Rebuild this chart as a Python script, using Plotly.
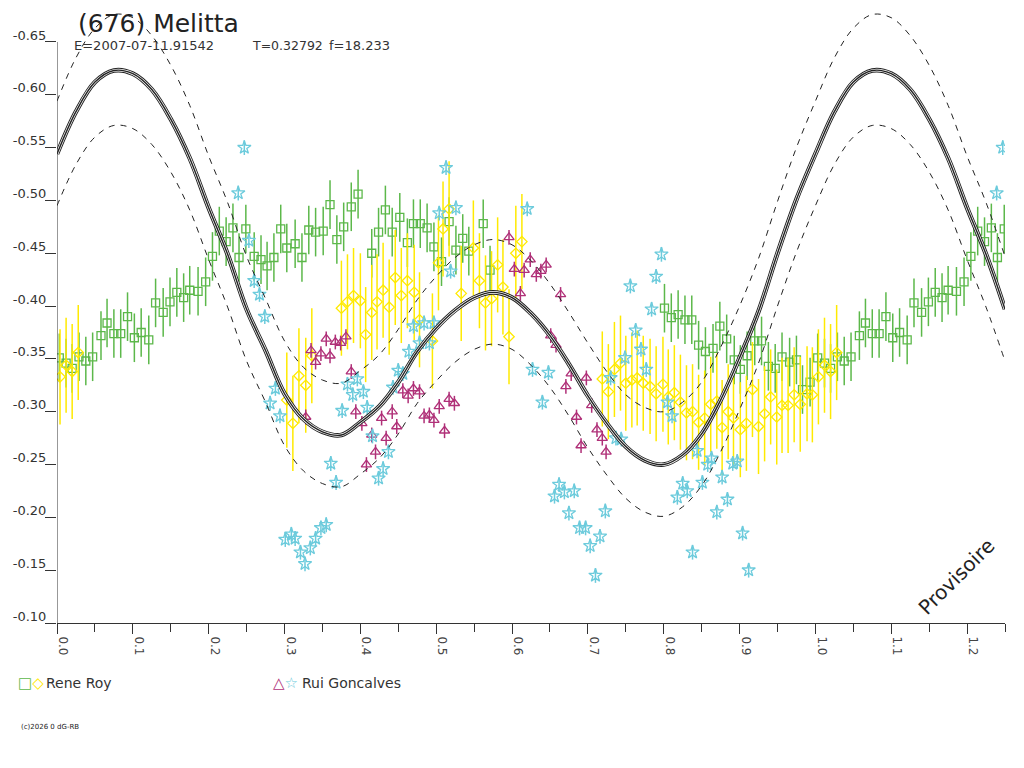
import plotly.graph_objects as go

# ---- fitted curve (every 0.025 in phase)
fit_phase = [round(i * 0.025, 3) for i in range(41)]
fit_mag = [-0.544, -0.584, -0.612, -0.623, -0.620, -0.605, -0.577, -0.540, -0.493, -0.449,
           -0.397, -0.358, -0.317, -0.293, -0.281, -0.278, -0.290, -0.305, -0.328, -0.357,
           -0.379, -0.396, -0.408, -0.413, -0.408, -0.393, -0.372, -0.345, -0.315, -0.289,
           -0.267, -0.254, -0.250, -0.259, -0.279, -0.311, -0.351, -0.395, -0.450, -0.501,
           -0.544]
fit_upper = [-0.594, -0.635, -0.663, -0.676, -0.673, -0.656, -0.628, -0.590, -0.542, -0.498,
             -0.447, -0.407, -0.367, -0.342, -0.330, -0.327, -0.339, -0.354, -0.378, -0.406,
             -0.428, -0.446, -0.458, -0.463, -0.458, -0.443, -0.421, -0.394, -0.365, -0.338,
             -0.316, -0.304, -0.300, -0.309, -0.328, -0.361, -0.400, -0.445, -0.499, -0.550,
             -0.594]
fit_lower = [-0.495, -0.534, -0.560, -0.571, -0.568, -0.553, -0.527, -0.491, -0.444, -0.399,
             -0.348, -0.309, -0.268, -0.244, -0.232, -0.229, -0.241, -0.256, -0.279, -0.308,
             -0.329, -0.347, -0.359, -0.364, -0.359, -0.344, -0.323, -0.296, -0.266, -0.240,
             -0.218, -0.205, -0.201, -0.210, -0.230, -0.262, -0.302, -0.346, -0.400, -0.451,
             -0.495]

# ---- Rene Roy, session 1 (green squares)
roy1_phase = [0.003, 0.012, 0.020, 0.029, 0.038, 0.047, 0.058, 0.066, 0.075, 0.084,
              0.093, 0.102, 0.111, 0.121, 0.130, 0.140, 0.149, 0.158, 0.167, 0.175,
              0.186, 0.196, 0.205, 0.214, 0.223, 0.232, 0.240, 0.249, 0.260, 0.269,
              0.277, 0.286, 0.295, 0.303, 0.314, 0.323, 0.332, 0.341, 0.351, 0.360,
              0.369, 0.378, 0.388, 0.397, 0.415, 0.424, 0.433, 0.442, 0.452, 0.462,
              0.470, 0.479, 0.488, 0.497, 0.507, 0.517, 0.526, 0.535, 0.543, 0.562,
              0.571, 0.801, 0.810, 0.819, 0.828, 0.837, 0.846, 0.855, 0.865, 0.874,
              0.883, 0.893, 0.901, 0.910, 0.920, 0.929, 0.938, 0.947, 0.956, 0.966,
              0.975, 0.983, 0.993]
roy1_mag = [-0.351, -0.346, -0.341, -0.352, -0.348, -0.352, -0.372, -0.384, -0.374, -0.374,
            -0.390, -0.370, -0.375, -0.368, -0.403, -0.394, -0.404, -0.413, -0.408, -0.415,
            -0.414, -0.423, -0.447, -0.471, -0.461, -0.474, -0.446, -0.473, -0.447, -0.444,
            -0.438, -0.446, -0.473, -0.455, -0.459, -0.446, -0.472, -0.470, -0.471, -0.496,
            -0.463, -0.475, -0.494, -0.506, -0.450, -0.470, -0.491, -0.470, -0.484, -0.460,
            -0.478, -0.478, -0.474, -0.456, -0.442, -0.480, -0.453, -0.464, -0.452, -0.478,
            -0.434, -0.398, -0.389, -0.392, -0.387, -0.387, -0.363, -0.357, -0.360, -0.381,
            -0.369, -0.349, -0.340, -0.353, -0.367, -0.367, -0.343, -0.341, -0.352, -0.347,
            -0.349, -0.321, -0.328]

# ---- Rene Roy, session 2 (yellow diamonds)
roy2_phase = [0.004, 0.012, 0.020, 0.028, 0.303, 0.311, 0.319, 0.328, 0.336, 0.375,
              0.383, 0.391, 0.400, 0.407, 0.415, 0.422, 0.430, 0.438, 0.446, 0.454,
              0.462, 0.471, 0.478, 0.495, 0.503, 0.509, 0.517, 0.533, 0.549, 0.557,
              0.565, 0.573, 0.581, 0.588, 0.596, 0.605, 0.613, 0.719, 0.727, 0.735,
              0.743, 0.750, 0.758, 0.765, 0.773, 0.782, 0.790, 0.799, 0.806, 0.814,
              0.822, 0.830, 0.838, 0.846, 0.854, 0.862, 0.870, 0.877, 0.885, 0.892,
              0.901, 0.909, 0.917, 0.925, 0.933, 0.941, 0.949, 0.956, 0.964, 0.972,
              0.980, 0.989, 0.996]
roy2_mag = [-0.333, -0.344, -0.338, -0.356, -0.311, -0.289, -0.334, -0.325, -0.353, -0.398,
            -0.404, -0.410, -0.405, -0.373, -0.394, -0.404, -0.415, -0.399, -0.427, -0.410,
            -0.424, -0.413, -0.387, -0.367, -0.441, -0.473, -0.492, -0.412, -0.455, -0.424,
            -0.403, -0.407, -0.439, -0.418, -0.371, -0.450, -0.461, -0.331, -0.319, -0.340,
            -0.346, -0.327, -0.330, -0.332, -0.327, -0.324, -0.317, -0.326, -0.314, -0.318,
            -0.309, -0.299, -0.300, -0.290, -0.294, -0.307, -0.310, -0.285, -0.300, -0.294,
            -0.283, -0.289, -0.321, -0.286, -0.298, -0.314, -0.295, -0.306, -0.306, -0.316,
            -0.307, -0.317, -0.316]

# ---- Rui Goncalves, session 1 (purple triangles)
rui1_phase = [0.328, 0.335, 0.341, 0.348, 0.355, 0.360, 0.367, 0.374, 0.381, 0.388,
              0.394, 0.402, 0.408, 0.415, 0.420, 0.428, 0.434, 0.442, 0.448, 0.456,
              0.463, 0.470, 0.478, 0.484, 0.491, 0.497, 0.504, 0.511, 0.517, 0.524,
              0.596, 0.603, 0.611, 0.616, 0.624, 0.632, 0.638, 0.645, 0.651, 0.658,
              0.664, 0.671, 0.678, 0.685, 0.691, 0.698, 0.705, 0.712, 0.719, 0.724]
rui1_mag = [-0.295, -0.358, -0.347, -0.355, -0.369, -0.353, -0.366, -0.365, -0.371, -0.338,
            -0.300, -0.289, -0.250, -0.278, -0.262, -0.294, -0.275, -0.300, -0.286, -0.320,
            -0.315, -0.322, -0.319, -0.296, -0.297, -0.292, -0.305, -0.282, -0.312, -0.308,
            -0.465, -0.435, -0.412, -0.434, -0.444, -0.430, -0.433, -0.439, -0.372, -0.363,
            -0.411, -0.324, -0.336, -0.295, -0.268, -0.332, -0.306, -0.283, -0.275, -0.262]

# ---- Rui Goncalves, session 2 (cyan stars)
rui2_phase = [0.239, 0.247, 0.253, 0.260, 0.267, 0.274, 0.281, 0.288, 0.294, 0.301,
              0.309, 0.314, 0.321, 0.327, 0.334, 0.341, 0.348, 0.355, 0.361, 0.368,
              0.376, 0.383, 0.390, 0.396, 0.404, 0.409, 0.416, 0.424, 0.430, 0.437,
              0.443, 0.450, 0.456, 0.464, 0.470, 0.478, 0.484, 0.491, 0.497, 0.504,
              0.513, 0.519, 0.526, 0.620, 0.627, 0.640, 0.648, 0.656, 0.662, 0.669,
              0.675, 0.682, 0.689, 0.697, 0.703, 0.710, 0.716, 0.723, 0.730, 0.737,
              0.744, 0.749, 0.756, 0.763, 0.770, 0.777, 0.784, 0.790, 0.797, 0.805,
              0.811, 0.818, 0.825, 0.831, 0.838, 0.844, 0.851, 0.858, 0.863, 0.870,
              0.877, 0.884, 0.891, 0.897, 0.904, 0.912]
rui2_mag = [-0.507, -0.550, -0.462, -0.424, -0.411, -0.390, -0.308, -0.322, -0.296, -0.179,
            -0.184, -0.180, -0.167, -0.156, -0.171, -0.180, -0.190, -0.193, -0.251, -0.233,
            -0.301, -0.326, -0.316, -0.331, -0.319, -0.304, -0.277, -0.237, -0.246, -0.262,
            -0.323, -0.339, -0.336, -0.357, -0.381, -0.365, -0.384, -0.365, -0.384, -0.488,
            -0.531, -0.433, -0.493, -0.492, -0.340, -0.309, -0.337, -0.220, -0.231, -0.224,
            -0.204, -0.225, -0.190, -0.190, -0.173, -0.145, -0.182, -0.206, -0.332, -0.275,
            -0.274, -0.351, -0.419, -0.377, -0.359, -0.340, -0.397, -0.428, -0.449, -0.309,
            -0.296, -0.219, -0.232, -0.225, -0.167, -0.263, -0.233, -0.250, -0.256, -0.205,
            -0.238, -0.217, -0.251, -0.253, -0.185, -0.150]

x_ticks = [0.0, 0.1, 0.2, 0.3, 0.4, 0.5, 0.6, 0.7, 0.8, 0.9, 1.0, 1.1, 1.2]
y_ticks = [-0.65, -0.60, -0.55, -0.50, -0.45, -0.40, -0.35, -0.30, -0.25, -0.20, -0.15, -0.10]

GREEN = '#5cb84a'
YELLOW = '#ffea00'
PURPLE = '#b03078'
CYAN = '#6ccbdc'
INK = '#222222'
FONT = 'DejaVu Sans, Liberation Sans, sans-serif'

# the page puts the figure 8px in from the top-left corner
OFF = 8
W, H = 1024 - OFF, 768 - OFF
# plot area in figure pixels
L, R, T, B = 57 - OFF, 1005 - OFF, 0, 623 - OFF


def px(x):
    # page pixel -> paper fraction
    return (x - OFF - L) / (R - L)


def py(y):
    return (B - (y - OFF)) / (B - T)


def wrap(ph, mag):
    # phases 0..0.25 are shown again after 1.0
    xs = list(ph) + [p + 1 for p in ph if p <= 0.25]
    ys = list(mag) + [m for p, m in zip(ph, mag) if p <= 0.25]
    return xs, ys


def wrap_curve(ph, mag):
    xs = list(ph) + [p + 1 for p in ph[1:] if p <= 0.25001]
    ys = list(mag) + [m for p, m in zip(ph[1:], mag[1:]) if p <= 0.25001]
    return xs, ys


fig = go.Figure()


def add_points(ph, mag, symbol, size, color, err):
    xs, ys = wrap(ph, mag)
    fig.add_trace(go.Scatter(
        x=xs, y=ys, mode='markers',
        marker=dict(symbol=symbol, size=size, color=color, line=dict(color=color, width=1.3)),
        error_y=dict(type='constant', value=err, color=color, thickness=1.5, width=0),
        hoverinfo='skip'
    ))


add_points(roy1_phase, roy1_mag, 'square-open', 8, GREEN, 0.023)
add_points(roy2_phase, roy2_mag, 'diamond-open', 8, YELLOW, 0.045)
add_points(rui1_phase, rui1_mag, 'triangle-up-open', 9, PURPLE, 0.007)
add_points(rui2_phase, rui2_mag, 'star-open', 10, CYAN, 0.007)

# dashed envelope
for band in (fit_upper, fit_lower):
    xs, ys = wrap_curve(fit_phase, band)
    fig.add_trace(go.Scatter(x=xs, y=ys, mode='lines', line=dict(color=INK, width=1, dash='6px,6px', shape='spline'),
                             hoverinfo='skip'))

# main fit drawn as a triple line
xs, ys = wrap_curve(fit_phase, fit_mag)
for w, c in ((4.6, INK), (2.8, 'white'), (1.4, INK)):
    fig.add_trace(go.Scatter(x=xs, y=ys, mode='lines', line=dict(color=c, width=w, shape='spline'),
                             hoverinfo='skip'))

y_top = -0.10 - (B - T) / 1056.4

fig.update_layout(
    width=W, height=H,
    margin=dict(l=L, r=W - R, t=T, b=H - B),
    paper_bgcolor='white', plot_bgcolor='white',
    showlegend=False,
    font=dict(family=FONT, color='#333333'),
    xaxis=dict(
        range=[0, 1.25], showgrid=False, zeroline=False, automargin=False,
        showline=True, linecolor='#333333', linewidth=1,
        tickvals=x_ticks, ticktext=['%.1f' % v for v in x_ticks],
        ticks='outside', ticklen=10, tickcolor='#333333', tickangle=90,
        tickfont=dict(size=12, color='#444444'), ticklabelshift=6,
        minor=dict(tickvals=[0.05 + 0.1 * i for i in range(13)], ticks='outside', ticklen=8,
                   tickcolor='#333333')
    ),
    yaxis=dict(
        range=[-0.10, y_top], showgrid=False, zeroline=False, showline=False, automargin=False,
        tickvals=y_ticks, ticktext=['%.2f' % v for v in y_ticks],
        ticks='outside', ticklen=11, tickcolor='#333333',
        tickfont=dict(size=13, color='#333333'), ticklabelshift=7, ticklabelstandoff=-4
    ),
)

# y axis line only between -0.65 and -0.10
fig.add_shape(type='line', xref='x', yref='y', x0=0, x1=0, y0=-0.10, y1=-0.65,
              line=dict(color='#333333', width=1))


def note(text, x, y, size, color='#333333', xanchor='left', angle=0):
    fig.add_annotation(text=text, xref='paper', yref='paper', x=px(x), y=py(y),
                       xanchor=xanchor, yanchor='middle', showarrow=False, textangle=angle,
                       font=dict(size=size, color=color))


note('(676) Melitta', 76, 23, 25, INK)
note('E=2007-07-11.91542', 72, 46, 13)
note('T=0.32792', 250, 46, 12.5)
note('f=18.233', 327, 46, 13)
note('Provisoire', 956, 577, 20, INK, xanchor='center', angle=-45)

note('<span style="color:%s">□</span><span style="color:%s">◇</span>' % (GREEN, YELLOW), 16, 683, 15)
note('Rene Roy', 44, 683, 14)
note('<span style="color:%s">△</span><span style="color:%s">☆</span>' % (PURPLE, CYAN), 271, 683, 15)
note('Rui Goncalves', 300, 683, 14)
note('(c)2026 0 dG-RB', 19, 727, 7, '#222222')

fig.write_html("out.html")
